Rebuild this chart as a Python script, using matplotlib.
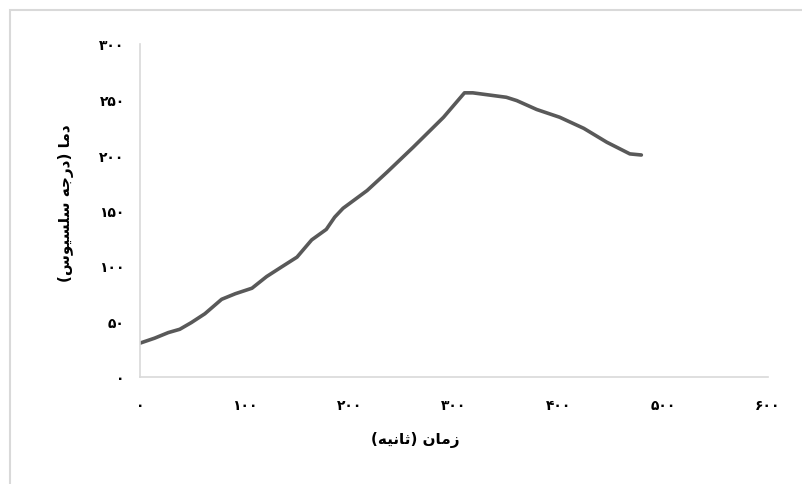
import matplotlib
matplotlib.use("Agg")
import matplotlib.pyplot as plt
from matplotlib.patches import Rectangle

# time (s) and temperature (C)
time_s = [0, 14, 27, 38, 49, 62, 78, 91, 107, 121, 135, 150, 164, 178, 186,
          194, 217, 236, 261, 290, 310, 318, 350, 360, 379, 401, 424, 446,
          468, 479]
temp_c = [30.5, 35, 40, 43, 49, 57, 70, 75, 80, 90.5, 99, 108, 123.5, 133,
          144, 152, 168, 184.5, 207, 234, 256, 256, 252, 249, 241, 234, 224,
          211.5, 201, 200]

x_ticks = [0, 100, 200, 300, 400, 500, 600]
y_ticks = [0, 50, 100, 150, 200, 250, 300]
x_title = "زمان (ثانیه)"
y_title = "دما (درجه سلسیوس)"

# matplotlib has no arabic shaping, so pick presentation forms by hand
FORMS = {
    "ا": (0xFE8D, 0xFE8E, None, None),
    "د": (0xFEA9, 0xFEAA, None, None),
    "ر": (0xFEAD, 0xFEAE, None, None),
    "ز": (0xFEAF, 0xFEB0, None, None),
    "و": (0xFEED, 0xFEEE, None, None),
    "ث": (0xFE99, 0xFE9A, 0xFE9B, 0xFE9C),
    "ج": (0xFE9D, 0xFE9E, 0xFE9F, 0xFEA0),
    "س": (0xFEB1, 0xFEB2, 0xFEB3, 0xFEB4),
    "ل": (0xFEDD, 0xFEDE, 0xFEDF, 0xFEE0),
    "م": (0xFEE1, 0xFEE2, 0xFEE3, 0xFEE4),
    "ن": (0xFEE5, 0xFEE6, 0xFEE7, 0xFEE8),
    "ه": (0xFEE9, 0xFEEA, 0xFEEB, 0xFEEC),
    "ی": (0xFBFC, 0xFBFD, 0xFBFE, 0xFBFF),
}
MIRROR = {"(": ")", ")": "("}


def joins_next(c):
    return c in FORMS and FORMS[c][2] is not None


def shape(text):
    out = []
    for i, c in enumerate(text):
        if c not in FORMS:
            out.append(MIRROR.get(c, c))
            continue
        prev = text[i - 1] if i > 0 else ""
        nxt = text[i + 1] if i + 1 < len(text) else ""
        a = joins_next(prev)
        b = joins_next(c) and nxt in FORMS
        isol, fina, init, medi = FORMS[c]
        if a and b:
            code = medi
        elif a:
            code = fina
        elif b:
            code = init
        else:
            code = isol
        out.append(chr(code))
    return "".join(reversed(out))


def fa_digits(n):
    return str(n).translate(str.maketrans("0123456789", "۰۱۲۳۴۵۶۷۸۹"))


plt.rcParams["font.family"] = ["DejaVu Sans"]

fig = plt.figure(figsize=(8.03, 4.85), dpi=100)
fig.patches.append(Rectangle((10 / 803, -0.1), 1.0, 1 - 11 / 485 + 0.1,
                             transform=fig.transFigure, fill=False,
                             edgecolor="#d9d9d9", linewidth=1.5))

ax = fig.add_axes([140 / 803, 107 / 485, 628 / 803, 333 / 485])
ax.plot(time_s, temp_c, color="#595959", linewidth=2.6,
        solid_capstyle="round", solid_joinstyle="round")

ax.set_xlim(0, 600)
ax.set_ylim(0, 300)
ax.set_xticks(x_ticks, [fa_digits(v) for v in x_ticks])
ax.set_yticks(y_ticks, [fa_digits(v) for v in y_ticks])
ax.tick_params(axis="x", length=0, pad=15, labelsize=10)
ax.tick_params(axis="y", length=0, pad=11, labelsize=10)
for lab in ax.get_xticklabels() + ax.get_yticklabels():
    lab.set_fontweight("bold")

for side in ("top", "right"):
    ax.spines[side].set_visible(False)
for side in ("left", "bottom"):
    ax.spines[side].set_color("#d9d9d9")
    ax.spines[side].set_linewidth(1.2)

fig.text(415 / 803, 1 - 440 / 485, shape(x_title), ha="center", va="center",
         fontsize=11, fontweight="bold")
fig.text(66 / 803, 1 - 203 / 485, shape(y_title), ha="center", va="center",
         rotation=90, fontsize=11, fontweight="bold")

fig.savefig("out.png", dpi=100)
